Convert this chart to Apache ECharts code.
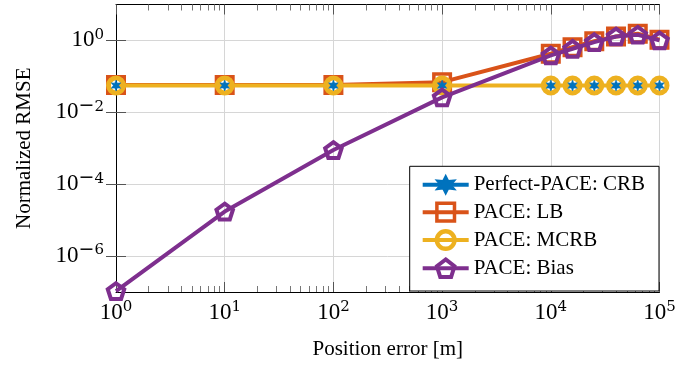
<!DOCTYPE html>
<html>
<head>
<meta charset="utf-8">
<script src="https://cdn.jsdelivr.net/npm/echarts@6/dist/echarts.min.js"></script>
<style>
  html, body { margin: 0; padding: 0; background: #fff; }
  #chart { width: 700px; height: 365px; }
</style>
</head>
<body>
<div id="chart"></div>
<script>
// position error [m]
const positionError = [1, 10, 100, 1000, 10000, 15849, 25119, 39811, 63096, 100000]

const crb = [0.0556, 0.0556, 0.0556, 0.0556, 0.0556, 0.0556, 0.0556, 0.0556, 0.0556, 0.0556]
const lb = [0.058, 0.058, 0.058, 0.069, 0.426, 0.65, 0.955, 1.29, 1.54, 1.045]
const mcrb = [0.0556, 0.0556, 0.0556, 0.0556, 0.0556, 0.0556, 0.0556, 0.0556, 0.0556, 0.0556]
const bias = [1.06e-7, 1.73e-5, 8.9e-4, 0.026, 0.382, 0.586, 0.897, 1.29, 1.44, 1.0]

const seriesNames = ['Perfect-PACE: CRB', 'PACE: LB', 'PACE: MCRB', 'PACE: Bias']

// labelled ticks of the y axis
const yTicks = [1e-6, 1e-4, 1e-2, 1]

// minor ticks of the log x axis, in decades (2..9 x 10^k)
const minorTicks = []
for (let k = 0; k < 5; k++) {
  for (let m = 2; m <= 9; m++) minorTicks.push(k + Math.log10(m))
}

const FONT = "'Liberation Serif', 'DejaVu Serif', serif"
const SUP_FONT = "'DejaVu Serif', serif"
const colors = { blue: '#0072BD', orange: '#D95319', yellow: '#EDB120', purple: '#7E2F8E' }

const starPath = 'path://M10,0 L12.5,5.7 L18.66,5 L15,10 L18.66,15 L12.5,14.3 L10,20 L7.5,14.3 L1.34,15 L5,10 L1.34,5 L7.5,5.7 Z'
const pentagonPath = 'path://M10,0 L19.51,6.91 L15.88,18.09 L4.12,18.09 L0.49,6.91 Z'

const pow10Label = (v) => {
  const e = Math.round(Math.log10(v))
  return '{b|10}' + (e < 0 ? '{m|\u2212}' : '') + '{s|' + Math.abs(e) + '}'
}
const labelRich = {
  b: { fontFamily: FONT, fontSize: 23, color: '#000' },
  m: { fontFamily: SUP_FONT, fontSize: 19, color: '#000', padding: [0, 0, 12, 0] },
  s: { fontFamily: SUP_FONT, fontSize: 15, color: '#000', padding: [0, 0, 11, 0] }
}

const chart = echarts.init(document.getElementById('chart'))

const pairs = (ys) => positionError.map((x, i) => [x, ys[i]])

const option = {
  animation: false,
  grid: { left: 116, right: 40.5, top: 4.5, bottom: 73 },
  legend: {
    orient: 'vertical',
    right: 41,
    bottom: 74,
    backgroundColor: '#fff',
    borderColor: '#000',
    borderWidth: 1,
    borderRadius: 0,
    padding: [8, 14, 12, 11],
    itemWidth: 46,
    itemHeight: 22,
    itemGap: 6.3,
    lineStyle: { width: 4 },
    textStyle: { fontFamily: FONT, fontSize: 21, color: '#000' },
    data: [
      { name: seriesNames[0], lineStyle: { opacity: 1 } },
      { name: seriesNames[1], itemStyle: { borderWidth: 3.5 } },
      { name: seriesNames[2], itemStyle: { borderWidth: 4.5 } },
      { name: seriesNames[3], itemStyle: { borderWidth: 4 } }
    ]
  },
  xAxis: [
    {
      type: 'log', logBase: 10, min: 1, max: 100000, position: 'bottom',
      name: 'Position error [m]', nameLocation: 'middle', nameGap: 57,
      nameTextStyle: { fontFamily: FONT, fontSize: 21, color: '#000', verticalAlign: 'middle' },
      axisLine: { lineStyle: { color: '#000', width: 1 } },
      axisTick: { inside: true, length: 10, lineStyle: { color: '#555' } },
      axisLabel: { formatter: pow10Label, rich: labelRich, margin: 8 },
      splitLine: { show: true, lineStyle: { color: '#d6d6d6', width: 1 } }
    },
    {
      type: 'log', logBase: 10, min: 1, max: 100000, position: 'top',
      axisLine: { lineStyle: { color: '#000', width: 1 } },
      axisTick: { inside: true, length: 10, lineStyle: { color: '#555' } },
      axisLabel: { show: false },
      splitLine: { show: false }
    },
    {
      type: 'value', min: 0, max: 5, position: 'bottom',
      axisLine: { show: false }, axisLabel: { show: false }, splitLine: { show: false },
      axisTick: { inside: true, length: 6, customValues: minorTicks, lineStyle: { color: '#777' } }
    },
    {
      type: 'value', min: 0, max: 5, position: 'top',
      axisLine: { show: false }, axisLabel: { show: false }, splitLine: { show: false },
      axisTick: { inside: true, length: 6, customValues: minorTicks, lineStyle: { color: '#777' } }
    }
  ],
  yAxis: [
    {
      type: 'log', logBase: 10, min: 1e-7, max: 10, position: 'left',
      name: 'Normalized RMSE', nameLocation: 'middle', nameGap: 92, nameRotate: 90,
      nameTextStyle: { fontFamily: FONT, fontSize: 21, color: '#000', verticalAlign: 'middle' },
      axisLine: { lineStyle: { color: '#000', width: 1 } },
      axisTick: { inside: true, length: 10, customValues: yTicks, lineStyle: { color: '#555' } },
      axisLabel: { formatter: pow10Label, customValues: yTicks, rich: labelRich, margin: 12 },
      splitLine: { show: true, lineStyle: { color: '#d6d6d6', width: 1 } }
    },
    {
      type: 'log', logBase: 10, min: 1e-7, max: 10, position: 'right',
      axisLine: { lineStyle: { color: '#000', width: 1 } },
      axisTick: { inside: true, length: 10, customValues: yTicks, lineStyle: { color: '#555' } },
      axisLabel: { show: false },
      splitLine: { show: false }
    }
  ],
  series: [
    {
      name: seriesNames[0], type: 'line', z: 4,
      data: pairs(crb),
      symbol: starPath, symbolSize: 11, symbolKeepAspect: true,
      itemStyle: { color: colors.blue, borderColor: colors.blue, borderWidth: 0.5 },
      // same values as MCRB, the line is hidden underneath it
      lineStyle: { color: colors.blue, width: 4, opacity: 0 }
    },
    {
      name: seriesNames[1], type: 'line', z: 2,
      data: pairs(lb),
      symbol: 'rect', symbolSize: 16.5,
      itemStyle: { color: 'rgba(255,255,255,0)', borderColor: colors.orange, borderWidth: 3.5 },
      lineStyle: { color: colors.orange, width: 4 }
    },
    {
      name: seriesNames[2], type: 'line', z: 3,
      data: pairs(mcrb),
      symbol: 'circle', symbolSize: 15,
      itemStyle: { color: 'rgba(255,255,255,0)', borderColor: colors.yellow, borderWidth: 5 },
      lineStyle: { color: colors.yellow, width: 4 }
    },
    {
      name: seriesNames[3], type: 'line', z: 5,
      data: pairs(bias),
      symbol: pentagonPath, symbolSize: 16.5, symbolKeepAspect: true,
      itemStyle: { color: 'rgba(255,255,255,0)', borderColor: colors.purple, borderWidth: 4 },
      lineStyle: { color: colors.purple, width: 4 }
    }
  ]
}

chart.setOption(option)
</script>
</body>
</html>
